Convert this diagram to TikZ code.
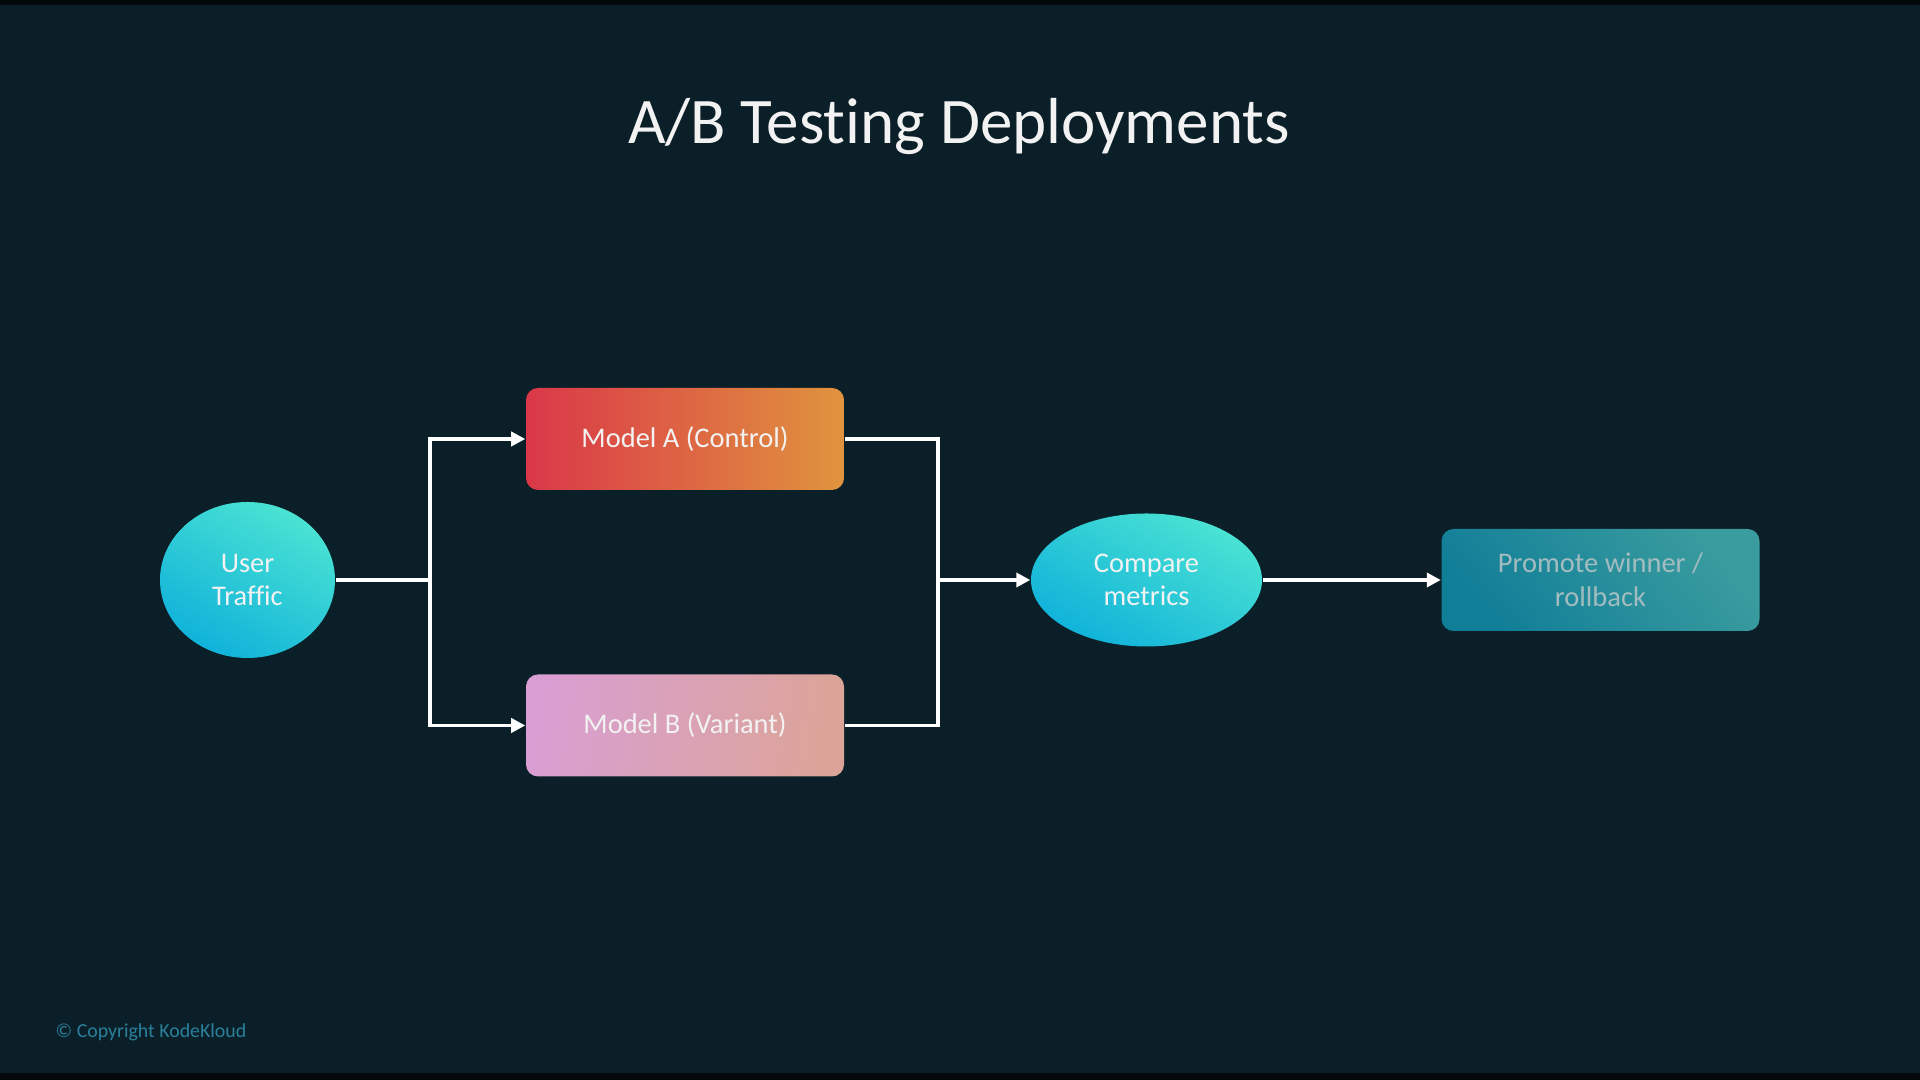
\documentclass[tikz,border=0pt]{standalone}
\usepackage{fontspec}
\setmainfont{Carlito}[Ligatures=NoCommon]
\usetikzlibrary{arrows.meta,shapes.geometric,positioning}
\definecolor{bg}{HTML}{0B1F28}
\definecolor{bar}{HTML}{04080A}
\definecolor{cyanlt}{HTML}{4AE3D3}
\definecolor{cyandk}{HTML}{10B2DA}
\definecolor{redA}{HTML}{DA3748}
\definecolor{orgA}{HTML}{E0943E}
\definecolor{pinkB}{HTML}{D99FD2}
\definecolor{peachB}{HTML}{DBA498}
\definecolor{tealdk}{HTML}{117E98}
\definecolor{teallt}{HTML}{3A9C9E}
\definecolor{promtxt}{HTML}{A3BCC0}
\definecolor{copytxt}{HTML}{2A809B}
\definecolor{txt}{HTML}{F2F2F2}
\tikzset{
  nodefont/.style={font=\fontsize{8.1}{9.6}\selectfont, text=txt, align=center},
  oval/.style={ellipse, inner sep=0pt, nodefont, top color=cyanlt, bottom color=cyandk, shading angle=-30},
  rbox/.style={rectangle, rounded corners=0.12cm, inner sep=0pt, minimum width=3.18cm, minimum height=1.02cm, nodefont},
  conn/.style={draw=white, line width=1.1pt},
  tip/.style={-{Triangle[length=4pt,width=4pt]}},
}
\begin{document}
\begin{tikzpicture}
\fill[bg] (0,0) rectangle (19.2,10.8);
\fill[bar] (0,10.75) rectangle (19.2,10.8);
\fill[bar] (0,0) rectangle (19.2,0.07);
\useasboundingbox (0,0) rectangle (19.2,10.8);

\node[font=\fontsize{18.5}{22}\selectfont, text=txt] (title) at (9.59,9.53) {A/B Testing Deployments};

\node[oval, minimum width=1.75cm, minimum height=1.56cm] (ut) at (2.475,5.00) {User\\Traffic};
\node[rbox, left color=redA, right color=orgA] (ma) at (6.85,6.41) {Model A (Control)};
\node[rbox, left color=pinkB, right color=peachB, shading angle=80, text=txt] (mb) at (6.85,3.545) {Model B (Variant)};
\node[oval, minimum width=2.31cm, minimum height=1.33cm] (cm) at (11.465,5.00) {Compare\\metrics};
\node[rbox, top color=teallt, bottom color=tealdk, shading angle=-50, text=promtxt] (pr) at (16.005,5.00) {Promote winner /\\rollback};

\coordinate (split) at (4.30,5.00);
\coordinate (merge) at (9.38,5.00);

\draw[conn] (ut.east) -- (split);
\draw[conn,tip] (split) |- (ma.west);
\draw[conn,tip] (split) |- (mb.west);
\draw[conn] (ma.east) -| (merge);
\draw[conn] (mb.east) -| (merge);
\draw[conn,tip] (merge) -- (cm.west);
\draw[conn,tip] (cm.east) -- (pr.west);

\node[anchor=west, font=\fontsize{5.65}{7}\selectfont, text=copytxt, inner sep=0pt] (copy) at (0.55,0.48) {© Copyright KodeKloud};
\end{tikzpicture}
\end{document}
